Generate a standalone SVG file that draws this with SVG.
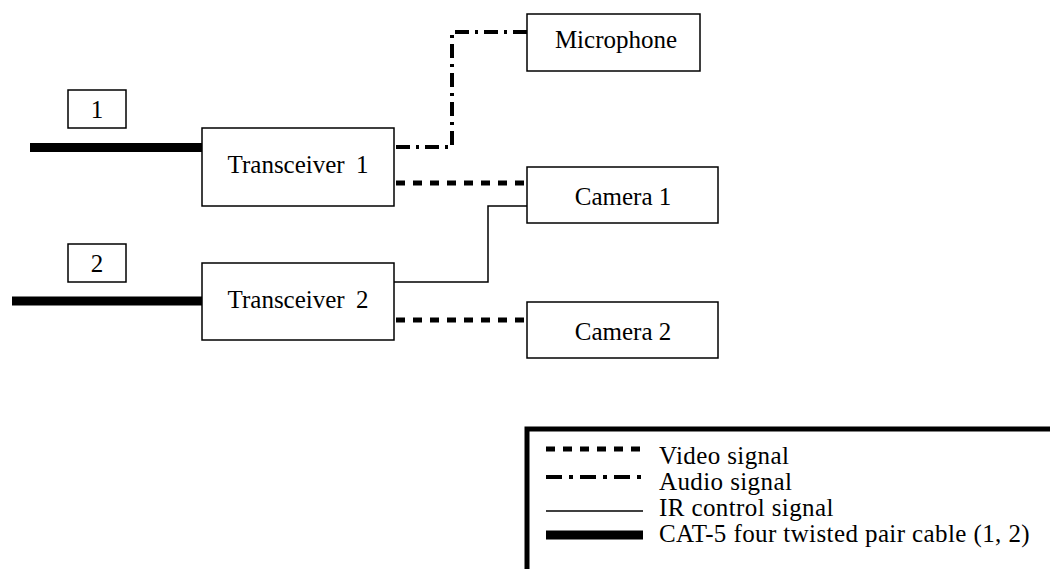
<svg xmlns="http://www.w3.org/2000/svg" width="1050" height="569" viewBox="0 0 1050 569">
<style>
.box{fill:#fff;stroke:#000;stroke-width:1.5}
.t{font-family:"Liberation Serif","Times New Roman",serif;font-size:25px;fill:#000;text-anchor:middle}
.lt{font-family:"Liberation Serif","Times New Roman",serif;font-size:25px;letter-spacing:0.4px;fill:#000}
.video{fill:none;stroke:#000;stroke-width:5;stroke-dasharray:9,8}
.audio{fill:none;stroke:#000;stroke-width:4;stroke-dasharray:14,6,3,6}
.ir{fill:none;stroke:#000;stroke-width:1.5}
.cat{fill:none;stroke:#000;stroke-width:9}
</style>
<rect width="1050" height="569" fill="#fff"/>
<g id="connectors">
<path class="cat" d="M30 147.5 H202"/>
<path class="cat" d="M12 301 H202"/>
<path class="audio" d="M396 147 H452 V32 H527"/>
<path class="video" d="M396 183 H527"/>
<path class="ir" d="M394 282 H488 V206 H527"/>
<path class="video" d="M396 320 H527"/>
</g>
<g id="label1"><rect class="box" x="68" y="90" width="58" height="38"/><text class="t" x="97" y="118">1</text></g>
<g id="label2"><rect class="box" x="68" y="244" width="58" height="38"/><text class="t" x="97" y="272">2</text></g>
<g id="transceiver1"><rect class="box" x="202" y="128" width="192" height="78"/><text class="t" x="298" y="173" word-spacing="5">Transceiver 1</text></g>
<g id="transceiver2"><rect class="box" x="202" y="263" width="192" height="77"/><text class="t" x="298" y="308" word-spacing="5">Transceiver 2</text></g>
<g id="microphone"><rect class="box" x="527" y="14" width="173" height="57"/><text class="t" x="616" y="48">Microphone</text></g>
<g id="camera1"><rect class="box" x="527" y="167" width="191" height="56"/><text class="t" x="623" y="205">Camera 1</text></g>
<g id="camera2"><rect class="box" x="527" y="302" width="191" height="56"/><text class="t" x="623" y="340">Camera 2</text></g>
<g id="legend">
<rect x="527" y="429" width="600" height="200" fill="none" stroke="#000" stroke-width="5"/>
<path class="video" d="M546 449 H643"/>
<text class="lt" x="659" y="464">Video signal</text>
<path class="audio" d="M546 477 H643" style="stroke-dasharray:16,7,4,7"/>
<text class="lt" x="659" y="490">Audio signal</text>
<path class="ir" d="M546 511 H643"/>
<text class="lt" x="659" y="516">IR control signal</text>
<path class="cat" d="M546 535 H643"/>
<text class="lt" x="659" y="542">CAT-5 four twisted pair cable (1, 2)</text>
</g>
</svg>
